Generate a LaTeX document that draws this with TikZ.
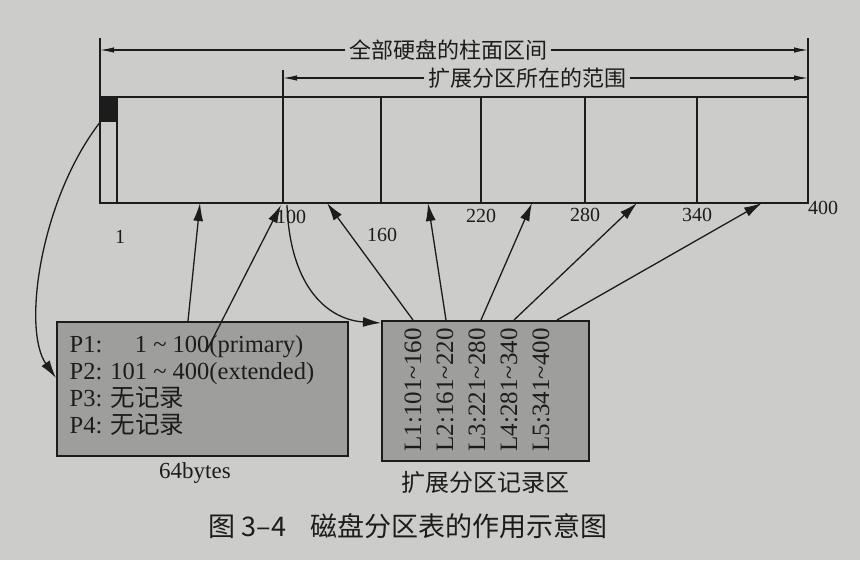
\documentclass[tikz,border=0pt]{standalone}
\usepackage{fontspec}
\setmainfont{Liberation Serif}
\newfontfamily\cjk{Noto Sans CJK SC}
\usetikzlibrary{arrows.meta}
\definecolor{paper}{RGB}{204,204,202}
\definecolor{boxfill}{RGB}{158,158,156}
\definecolor{ink}{RGB}{28,28,28}
\begin{document}
\begin{tikzpicture}[x=1pt,y=-1pt,line width=1.3pt,
  every node/.style={text=ink},
  rangearrow/.style={draw=ink,line width=1.2pt,-{Latex[length=14pt,width=5.5pt]}},
  bigarrow/.style={draw=ink,line width=1.3pt,-{Latex[length=18pt,width=10pt]}},
  barline/.style={draw=ink,line width=1.4pt},
  recbox/.style={draw=ink,fill=boxfill,line width=1.5pt,inner sep=0pt,anchor=north west},
  numlbl/.style={font=\fontsize{20}{23}\selectfont,inner sep=1pt},
  cjklbl/.style={font=\cjk\fontsize{22}{26}\selectfont,inner sep=3pt},
  rectext/.style={font=\fontsize{24.5}{28}\selectfont,inner sep=0pt,anchor=base west},
  coltext/.style={font=\fontsize{25}{29}\selectfont,inner sep=0pt,rotate=90}]
\fill[paper] (0,0) rectangle (860,560);
\useasboundingbox (0,0) rectangle (860,560);

% ---- disk bar
\coordinate (LT) at (100,38); \coordinate (LB) at (100,203);
\coordinate (RT) at (808,38); \coordinate (RB) at (808,203);
\draw[barline] (LT) -- (LB) -- (RB) -- (RT);
\draw[barline] (100,97) -- (808,97);
\node[fill=ink,minimum width=17pt,minimum height=24pt,inner sep=0pt,anchor=north west] (sq) at (100,97) {};
\draw[barline] (117,97) -- (117,203);
\coordinate (X100t) at (283,70); \coordinate (X100) at (283,203);
\draw[barline] (X100t) -- (X100);
\foreach \x in {381,481,585,697} \draw[barline] (\x,97) -- (\x,203);

% ---- range arrows
\node[cjklbl] (t1) at (448,50) {全部硬盘的柱面区间};
\coordinate (a1l) at (100,50); \coordinate (a1r) at (808,50);
\draw[rangearrow] (t1.west) -- (a1l);
\draw[rangearrow] (t1.east) -- (a1r);
\node[cjklbl] (t2) at (527,78) {扩展分区所在的范围};
\coordinate (a2l) at (283,78); \coordinate (a2r) at (808,78);
\draw[rangearrow] (t2.west) -- (a2l);
\draw[rangearrow] (t2.east) -- (a2r);

% ---- tick labels
\node[numlbl] (n1) at (120,237) {1};
\node[numlbl] (n100) at (291,217) {100};
\node[numlbl] (n160) at (382,235) {160};
\node[numlbl] (n220) at (481,216) {220};
\node[numlbl] (n280) at (585,215) {280};
\node[numlbl] (n340) at (697,215) {340};
\node[numlbl] (n400) at (823,208) {400};

% ---- primary partition table box
\node[recbox,minimum width=291pt,minimum height=134pt] (pbox) at (56,321) {};
\node[rectext] (p1) at (69,352) {P1: \phantom{10}1 \textasciitilde{} 100(primary)};
\node[rectext] (p2) at (69,379) {P2: 101 \textasciitilde{} 400(extended)};
\node[rectext] (p3) at (69,406) {P3: {\cjk 无记录}};
\node[rectext] (p4) at (69,433) {P4: {\cjk 无记录}};
\node[font=\fontsize{23}{27}\selectfont] (bytes) at (195,473) {64bytes};

% ---- extended partition record box
\node[recbox,minimum width=207pt,minimum height=140pt] (lbox) at (381,320) {};
\node[coltext] (l1) at (413,390) {L1:101\textasciitilde160};
\node[coltext] (l2) at (445,390) {L2:161\textasciitilde220};
\node[coltext] (l3) at (477,390) {L3:221\textasciitilde280};
\node[coltext] (l4) at (509,390) {L4:281\textasciitilde340};
\node[coltext] (l5) at (541,390) {L5:341\textasciitilde400};
\node[font=\cjk\fontsize{24}{28}\selectfont] (lcap) at (485,482) {扩展分区记录区};

% ---- caption
\node[font=\cjk\fontsize{27}{31}\selectfont] (cap) at (408,526) {图 3–4\hspace{0.9em}磁盘分区表的作用示意图};

% ---- connectors
\coordinate (pW) at (56,378);
\draw[bigarrow] (sq.south west) .. controls (40,200) and (22,330) .. (pW);
\coordinate (pT1) at (188,321); \coordinate (bA) at (200,203);
\draw[bigarrow] (pT1) -- (bA);
\coordinate (pIn) at (206,352); \coordinate (bB) at (281,205);
\draw[bigarrow] (pIn) -- (bB);
\coordinate (b100s) at (287,205); \coordinate (lW) at (381,323);
\draw[bigarrow] (b100s) .. controls (290,290) and (330,320) .. (lW);
\coordinate (lt1) at (413,320); \coordinate (s1) at (327,203);
\coordinate (lt2) at (446,320); \coordinate (s2) at (428,203);
\coordinate (lt3) at (481,320); \coordinate (s3) at (532,203);
\coordinate (lt4) at (514,320); \coordinate (s4) at (637,203);
\coordinate (lt5) at (557,320); \coordinate (s5) at (762,203);
\draw[bigarrow] (lt1) -- (s1);
\draw[bigarrow] (lt2) -- (s2);
\draw[bigarrow] (lt3) -- (s3);
\draw[bigarrow] (lt4) -- (s4);
\draw[bigarrow] (lt5) -- (s5);
\end{tikzpicture}
\end{document}
